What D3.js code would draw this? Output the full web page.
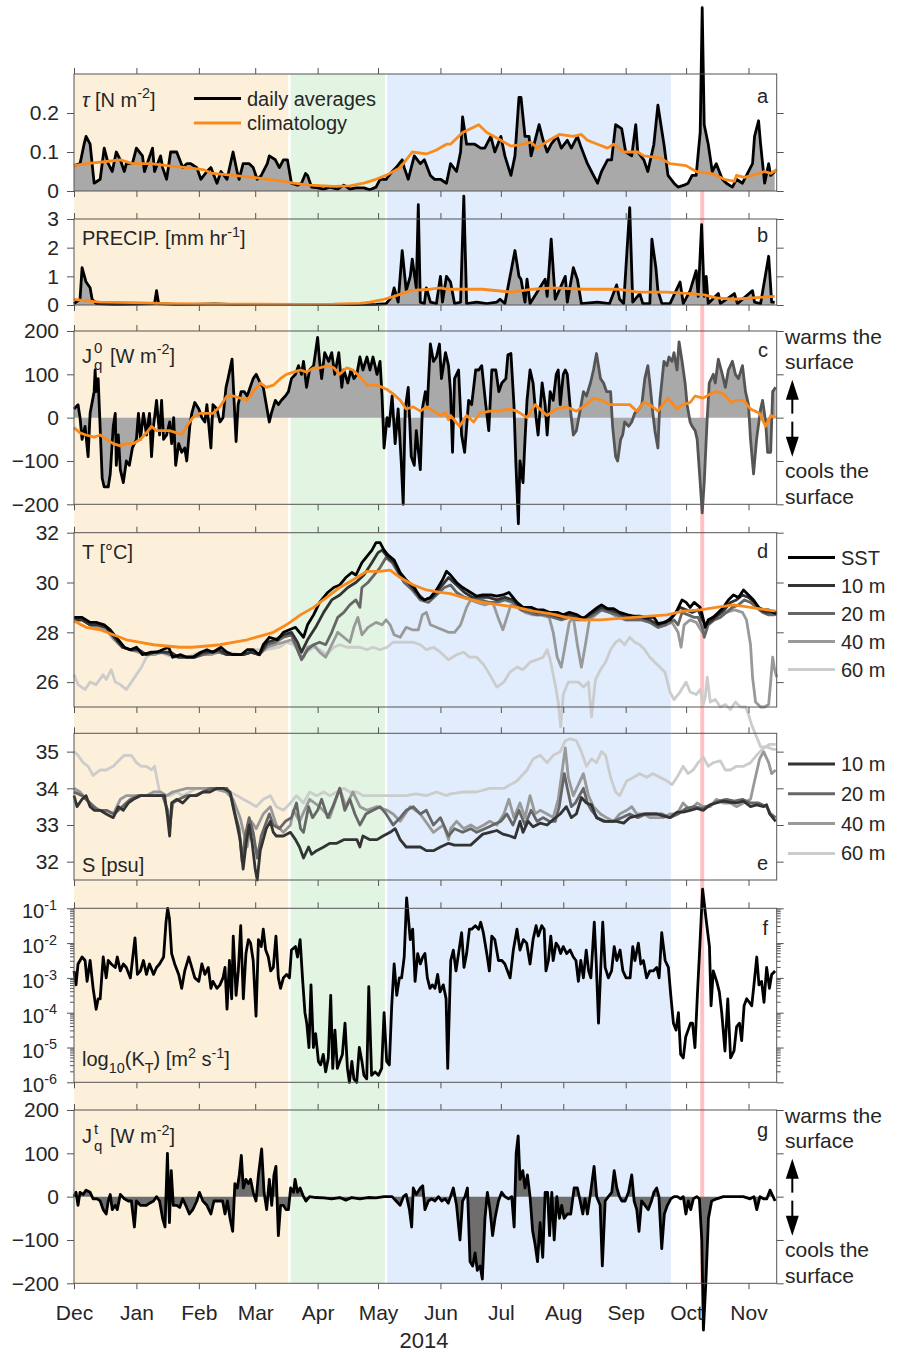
<!DOCTYPE html>
<html>
<head>
<meta charset="utf-8">
<script src="https://cdn.jsdelivr.net/npm/d3@7"></script>
<style>
  body { margin: 0; background: #fff; }
  svg { display: block; font-family: "Liberation Sans", Arial, Helvetica, sans-serif; }
</style>
</head>
<body>
<svg id="chart" width="905" height="1352"></svg>
<script>
// all series are [day since 2013-12-01, value]

const stressDaily = [[0,.065],[3,.07],[5,.12],[6,.14],[8,.12],[10,.02],[13,.03],[15,.11],[17,.07],[19,.05],[21,.10],[23,.08],[25,.05],[26,.07],[29,.07],[31,.11],[34,.09],[35,.05],[39,.11],[40,.05],[43,.09],[44,.06],[46,.03],[48,.10],[51,.10],[54,.06],[56,.07],[58,.07],[61,.06],[63,.03],[66,.05],[68,.06],[71,.02],[73,.05],[76,.03],[79,.10],[81,.05],[82,.03],[84,.07],[87,.07],[89,.06],[91,.03],[93,.04],[96,.07],[97,.09],[100,.08],[102,.06],[104,.08],[106,.08],[108,.02],[111,.015],[113,.02],[115,.045],[116,.04],[118,.01],[121,.008],[124,.005],[127,.01],[131,.005],[134,.015],[137,.005],[140,.008],[144,.008],[147,.003],[150,.01],[152,.03],[155,.03],[158,.05],[160,.06],[163,.08],[164,.06],[166,.03],[169,.09],[172,.07],[174,.08],[177,.04],[179,.03],[182,.03],[185,.02],[187,.07],[190,.05],[192,.10],[193,.19],[195,.12],[197,.12],[199,.12],[202,.11],[204,.11],[207,.14],[209,.10],[212,.14],[214,.09],[217,.04],[219,.09],[221,.24],[222,.24],[224,.14],[226,.14],[227,.09],[229,.13],[231,.17],[233,.13],[235,.10],[237,.12],[240,.14],[242,.11],[245,.13],[247,.11],[250,.14],[252,.11],[255,.07],[257,.05],[260,.02],[262,.05],[265,.08],[267,.08],[269,.17],[272,.16],[274,.10],[277,.09],[279,.17],[280,.10],[283,.08],[285,.05],[288,.12],[290,.22],[293,.12],[295,.04],[298,.02],[300,.01],[303,.015],[305,.02],[307,.04],[309,.04],[311,.15],[312,.47],[313,.17],[315,.12],[317,.05],[319,.07],[322,.03],[324,.02],[327,.01],[329,.03],[332,.02],[334,.04],[337,.07],[338,.14],[340,.18],[341,.12],[343,.02],[345,.07],[346,.04],[348,.05]];
const stressClim = [[0,.065],[6,.07],[15,.075],[23,.08],[29,.07],[38,.07],[46,.065],[56,.06],[64,.055],[69,.045],[79,.04],[89,.035],[96,.03],[104,.025],[109,.02],[117,.015],[129,.012],[137,.013],[144,.02],[150,.03],[155,.04],[162,.06],[168,.10],[175,.095],[180,.105],[185,.12],[187,.12],[193,.15],[201,.17],[205,.15],[212,.13],[217,.115],[223,.12],[227,.125],[230,.11],[236,.13],[241,.145],[248,.14],[252,.145],[255,.13],[260,.12],[265,.11],[268,.12],[273,.10],[280,.10],[283,.09],[291,.085],[296,.07],[304,.065],[309,.05],[316,.045],[319,.04],[323,.03],[328,.025],[329,.04],[333,.035],[337,.04],[343,.05],[346,.045],[349,.055]];

const precipDaily = [[0,.05],[3,.2],[4,1.3],[6,.8],[8,.6],[9,.2],[11,.05],[20,.02],[30,.03],[40,.05],[41,.5],[42,.05],[50,.02],[60,.02],[70,.04],[80,.01],[90,.01],[100,.02],[110,.01],[120,.02],[130,.01],[140,.01],[150,.02],[155,.05],[158,.3],[159,.6],[161,.1],[163,1.9],[165,.5],[167,1.0],[168,1.6],[170,.6],[171,3.5],[172,.1],[174,.05],[175,.6],[177,.1],[180,.05],[182,1.0],[183,.1],[185,1.0],[187,.8],[189,.05],[192,.1],[193.6,3.8],[195,.05],[200,.1],[205,.05],[210,.1],[211.6,.2],[214,.05],[219,1.9],[221,1.0],[222,.9],[224,.1],[225,.9],[226.5,.05],[234,.9],[235,.3],[237,2.3],[239,.2],[244,1.0],[245,.1],[248,1.3],[250,.9],[252,.05],[260,.1],[266,.05],[269.5,.7],[271,.2],[273,.05],[276,3.4],[277.5,.1],[281,.4],[282.5,.05],[286,.05],[287,2.3],[289,1.3],[290,.5],[292,.05],[296,.05],[301,.8],[302.6,.05],[306,.5],[309,1.2],[310,.3],[311.7,2.8],[313,.3],[314,1.0],[315,.05],[320,.4],[321,.05],[328,.4],[329.5,.05],[337,.5],[338,.1],[341,.05],[345,1.7],[346.5,.1],[348,.1]];
const precipClim = [[0,.2],[5,.15],[13,.1],[30,.08],[46,.05],[63,.04],[79,.03],[112,.02],[129,.03],[142,.06],[147,.1],[154,.2],[159,.3],[167,.5],[177,.55],[182,.6],[185,.55],[203,.55],[217,.45],[228,.55],[238,.6],[253,.55],[270,.55],[280,.45],[294,.45],[306,.4],[313,.35],[319,.25],[328,.2],[337,.25],[348,.3]];

const surfFluxDaily = [[0,20],[2,30],[3,0],[4,-50],[5.5,-20],[7,-90],[8,10],[10,60],[10.5,110],[11,60],[12,90],[14,-140],[15,-160],[17,-160],[18,-130],[19.5,-20],[20.5,10],[21,-110],[22,-40],[23,-120],[24.5,-150],[26,-100],[27.5,-110],[29,-70],[31,-50],[32,10],[33,-50],[34.5,10],[36,-40],[37.5,10],[38.5,-90],[39.5,-20],[41,40],[42.5,-40],[43.5,40],[44.5,-50],[46,-40],[47.5,-10],[48.5,-60],[49.5,0],[50.5,-110],[52,-60],[53.5,-80],[55,-70],[56,-100],[57.5,-20],[58.5,10],[60,35],[62,20],[63.5,0],[65,-10],[66,30],[68,-70],[69,30],[71,20],[72.5,-10],[74,0],[75.5,70],[76.5,90],[78.5,135],[79.5,40],[80.5,-55],[81.5,30],[83,60],[84.5,60],[86,50],[87.5,70],[89,90],[90.5,100],[92.5,80],[94,70],[95.5,30],[97,-10],[98,10],[100,40],[101.5,30],[103,40],[105,50],[106.5,60],[108,90],[110,100],[111.5,120],[113,100],[114,130],[115.5,70],[117,110],[119,120],[121,185],[122,130],[123,90],[124.5,150],[126.5,130],[128,150],[129.5,100],[131.5,150],[133,70],[134,110],[136,80],[137.5,110],[139,90],[140.5,100],[142,140],[143.5,110],[145.5,140],[147,110],[148.5,140],[150.5,100],[152,130],[153,50],[154,-70],[155.5,0],[156.5,-20],[158,50],[159.5,-60],[161,20],[162.5,-100],[163.5,-200],[164.5,20],[166,70],[167.5,-90],[169,-110],[170,-30],[172,-120],[173,20],[174.5,60],[175.5,30],[177,170],[178.5,130],[180,140],[181.5,170],[182.5,90],[184.5,150],[186,120],[187,60],[188,-80],[189,90],[191,110],[192.5,-40],[194,-80],[196,40],[197.5,30],[199.5,110],[201,110],[202.5,120],[204.5,30],[206,-30],[207.5,110],[209.5,110],[211,60],[212.5,80],[214.5,90],[215.5,145],[217,148],[218.5,30],[219.5,-110],[220.7,-245],[221.5,-100],[223,-150],[224,-50],[225,40],[226.5,110],[228,80],[229.5,0],[230.5,-40],[232.5,80],[234,30],[235,-40],[236.5,60],[238,40],[239.5,100],[240.5,110],[241.5,30],[243,100],[244,110],[245,100],[246.5,20],[248,-40],[249.5,-30],[251.5,20],[253,60],[254.5,50],[256.5,80],[258,110],[259.5,148],[261.5,90],[263,80],[264.5,60],[266.5,60],[267.5,-20],[269,-90],[270,-100],[271.5,-50],[272.5,-40],[273.5,-10],[275.5,-20],[277,-10],[278.5,10],[280.5,20],[282,30],[283.5,90],[285,120],[286,80],[287.5,10],[288.5,-30],[290,-70],[291,40],[293,130],[294.5,120],[295.5,140],[297,130],[298,150],[299.5,110],[300.5,175],[302,130],[303.5,80],[304.5,30],[306,-10],[307,-20],[308.5,-30],[309.5,-50],[311,-150],[312,-220],[313,-150],[314.5,0],[315.5,80],[317.5,100],[318.5,80],[320,135],[322,100],[323.5,70],[325,110],[327,130],[328.5,100],[330,90],[332,120],[333.5,60],[335,30],[336,-50],[337.5,-130],[339,-50],[341,20],[342,40],[343.5,-10],[344.5,-80],[346,-80],[347,60],[348.5,70]];
const surfFluxClim = [[0,-23],[3,-35],[6,-40],[10,-45],[13,-40],[16,-50],[19.5,-60],[23,-65],[26,-60],[29.5,-60],[33,-50],[36,-35],[38.5,-20],[41,-30],[44.5,-30],[47.5,-30],[51,-35],[53.5,-40],[56,-20],[59,0],[62.5,10],[66,10],[69,10],[72.5,25],[76,50],[79,50],[82.5,45],[86,40],[89,60],[92.5,80],[95.5,70],[99,75],[102.5,90],[105.5,100],[109,105],[112.5,110],[115.5,105],[119,115],[122,115],[126.5,120],[129,115],[132,100],[135.5,115],[138.5,110],[142,95],[145.5,75],[150.5,75],[155.5,65],[158.5,55],[162,40],[165,20],[168.5,25],[172,15],[175,25],[178.5,15],[182,5],[184.5,12],[186,-5],[187,5],[191.5,-20],[195,5],[198.5,-10],[201.5,10],[206.5,15],[211.5,15],[216,20],[220,15],[225,0],[229,30],[232.5,15],[235,5],[239.5,20],[244.5,25],[249.5,15],[254.5,30],[258,45],[262,40],[266.5,30],[271,30],[276,30],[279.5,15],[283,35],[286,30],[290,15],[295,45],[299.5,20],[302.5,30],[306,35],[308.5,50],[312.5,45],[316,55],[319,60],[322.5,55],[326.5,35],[329,40],[332.5,40],[336,20],[340.5,10],[343.5,-20],[346,5],[348.5,0]];
const surfFluxGreyFrom = 246; // line drawn grey after this day

const tempSST = [[0,28.6],[4,28.6],[8,28.4],[11,28.4],[15,28.3],[18,28.1],[21,27.8],[25,27.4],[28,27.3],[31,27.4],[34,27.1],[38,27.2],[41,27.2],[44,27.3],[47,27.4],[49,27.0],[53,27.1],[56,27.0],[59,27.0],[63,27.2],[66,27.3],[69,27.2],[73,27.4],[76,27.2],[79,27.1],[83,27.1],[86,27.3],[89,27.3],[92,27.1],[94,27.5],[97,27.8],[101,27.7],[104,28.0],[107,28.1],[110,28.2],[112,28.0],[114,27.8],[116,28.3],[119,28.7],[122,29.2],[126,29.6],[129,29.8],[132,29.9],[135,30.2],[138,30.4],[140,30.3],[143,30.8],[145,31.0],[148,31.3],[150,31.6],[152,31.6],[154,31.3],[156,31.1],[159,30.9],[162,30.4],[165,30.1],[169,29.8],[172,29.4],[174,29.3],[177,29.4],[180,29.7],[183,30.1],[185,30.45],[187,30.3],[190,30.0],[193,29.8],[197,29.6],[200,29.45],[203,29.5],[207,29.5],[210,29.45],[213,29.5],[216,29.6],[218,29.4],[220,29.2],[223,29.0],[227,29.0],[230,28.9],[233,28.9],[236,28.8],[240,28.8],[243,28.7],[246,28.8],[250,28.7],[253,28.55],[256,28.75],[260,29.0],[262,29.1],[265,28.95],[268,28.95],[271,28.8],[275,28.7],[278,28.65],[281,28.65],[284,28.6],[288,28.6],[290,28.35],[293,28.4],[296,28.5],[299,28.8],[302,29.3],[304,29.2],[306,29.0],[308,29.2],[311,29.0],[312,28.7],[313.5,28.2],[315,28.5],[317.5,28.6],[320,28.8],[322.5,29.0],[325,29.3],[327.5,29.5],[330,29.4],[332.5,29.7],[335,29.5],[337.5,29.3],[340,29.0],[342.5,28.9],[345,28.9],[347.5,28.8],[349,28.8]];
const temp10 = [[0,28.5],[4,28.5],[8,28.3],[12,28.3],[16,28.2],[20,27.8],[24,27.4],[28,27.3],[32,27.3],[36,27.1],[40,27.2],[44,27.2],[48,27.2],[52,27.0],[56,27.0],[60,27.0],[64,27.2],[68,27.2],[72,27.3],[76,27.1],[80,27.1],[84,27.1],[88,27.2],[92,27.1],[96,27.6],[100,27.7],[104,27.9],[108,28.0],[111,27.6],[113,27.2],[116,27.7],[120,28.2],[124,28.8],[128,29.3],[132,29.5],[136,29.8],[140,30.0],[144,30.3],[148,30.8],[151,31.2],[153,31.3],[156,31.0],[159,30.8],[162,30.3],[166,30.0],[170,29.6],[174,29.3],[178,29.4],[182,29.8],[186,30.2],[190,29.9],[194,29.6],[198,29.4],[202,29.4],[206,29.4],[210,29.3],[214,29.4],[218,29.3],[222,29.0],[226,28.9],[230,28.8],[234,28.8],[238,28.7],[242,28.6],[246,28.7],[250,28.6],[254,28.6],[258,28.8],[262,29.0],[266,28.9],[270,28.8],[274,28.6],[278,28.6],[282,28.6],[286,28.5],[290,28.3],[294,28.4],[298,28.7],[301,29.0],[304,28.9],[307,28.8],[310,28.9],[312,28.5],[314,28.3],[317,28.5],[320,28.7],[323,28.9],[326,29.2],[329,29.3],[332,29.5],[335,29.4],[338,29.2],[341,28.9],[344,28.8],[347,28.8],[349,28.7]];
const temp20 = [[0,28.5],[4,28.5],[8,28.3],[12,28.3],[16,28.2],[20,27.8],[24,27.4],[28,27.3],[32,27.3],[36,27.1],[40,27.2],[44,27.2],[48,27.1],[52,27.0],[56,27.0],[60,27.0],[64,27.1],[68,27.2],[72,27.2],[76,27.1],[80,27.1],[84,27.1],[88,27.2],[92,27.1],[96,27.5],[100,27.6],[104,27.8],[108,27.9],[111,27.3],[113,26.9],[116,27.3],[119,27.5],[122,27.6],[125,27.5],[128,28.0],[131,28.6],[134,28.8],[137,29.1],[140,29.3],[142,29.0],[143,29.8],[146,30.0],[149,30.3],[152,30.6],[155,31.0],[158,30.8],[161,30.4],[164,30.0],[168,29.7],[172,29.3],[176,29.2],[180,29.5],[184,29.8],[187,29.9],[190,29.6],[194,29.4],[198,29.3],[202,29.3],[206,29.2],[210,29.2],[214,29.3],[218,29.2],[222,28.9],[226,28.8],[230,28.7],[234,28.7],[238,28.6],[242,28.5],[246,28.6],[250,28.5],[254,28.5],[258,28.7],[262,28.9],[266,28.8],[270,28.7],[274,28.5],[278,28.5],[282,28.5],[286,28.4],[290,28.2],[294,28.3],[298,28.5],[300,28.3],[302,28.8],[305,28.7],[308,28.6],[310,28.6],[312,28.2],[313,27.8],[315,28.3],[318,28.5],[321,28.6],[324,28.8],[327,29.0],[330,29.1],[333,29.3],[336,29.2],[339,29.0],[342,28.8],[345,28.7],[348,28.7]];
const temp40 = [[0,28.5],[4,28.5],[8,28.3],[12,28.2],[16,28.1],[20,27.7],[24,27.4],[28,27.3],[32,27.2],[36,27.1],[40,27.1],[44,27.2],[48,27.1],[52,27.0],[56,27.0],[60,27.0],[64,27.1],[68,27.1],[72,27.2],[76,27.1],[80,27.1],[84,27.1],[88,27.2],[92,27.1],[96,27.4],[100,27.5],[104,27.6],[108,27.7],[110,27.5],[112,27.1],[114,27.0],[116,27.4],[119,27.5],[122,27.2],[125,27.0],[128,27.5],[131,28.0],[134,27.8],[137,27.6],[139,28.2],[141,28.6],[143,27.9],[146,28.2],[150,28.4],[153,28.3],[155,28.5],[157,28.3],[159,27.9],[162,27.8],[165,28.2],[168,28.1],[171,28.1],[173,28.7],[175,28.8],[177,28.3],[180,28.2],[183,28.1],[186,28.0],[189,28.0],[192,28.3],[195,29.0],[197,29.3],[200,29.2],[204,29.1],[208,29.2],[211,28.5],[213,28.1],[215,28.6],[217,29.1],[220,29.0],[224,28.8],[228,28.7],[232,28.7],[236,28.6],[238,28.0],[240,27.0],[242,26.6],[244,27.5],[246,28.4],[248,28.6],[250,27.5],[252,26.6],[254,27.5],[256,28.5],[259,28.7],[262,28.9],[266,28.8],[270,28.6],[274,28.5],[278,28.5],[282,28.5],[286,28.4],[290,28.2],[294,28.3],[297,28.4],[300,28.0],[301.5,27.4],[303,28.3],[306,28.5],[309,28.4],[312,28.0],[314,28.3],[317,28.6],[320,28.7],[324,28.8],[328,28.9],[332,28.8],[334,28.5],[336,27.5],[337,26.2],[338.5,25.2],[341,25.0],[343,25.0],[345,25.1],[346,26.0],[347,27.0],[348,26.5],[349,26.2]];
const temp60 = [[0,26.3],[2,25.9],[5.5,25.7],[8,26.0],[11,25.9],[14.5,26.3],[16,26.1],[18.5,26.5],[20.5,26.0],[23,25.9],[26,25.7],[28.5,26.0],[31,26.3],[33.5,26.6],[36,27.0],[39.5,27.2],[42.5,27.2],[49,27.0],[56,27.0],[62.5,27.2],[69,27.2],[76,27.2],[82.5,27.1],[89,27.3],[95.5,27.3],[102,27.4],[105.5,27.6],[109,27.5],[112.5,27.2],[115.5,27.2],[119,27.4],[122,27.3],[125.5,27.1],[129,27.4],[132,27.5],[135.5,27.4],[138.5,27.4],[142,27.4],[145.5,27.3],[148.5,27.4],[152,27.3],[155.5,27.4],[158.5,27.6],[162,27.6],[165,27.6],[168.5,27.6],[172,27.5],[175,27.3],[178.5,27.4],[182,27.2],[186,26.9],[190,27.1],[193.5,27.2],[196.5,27.0],[200,27.0],[203.5,26.7],[206.5,26.3],[210,25.8],[213.5,26.0],[216.5,26.4],[220,26.6],[223,26.5],[226.5,26.8],[230,26.9],[233,27.0],[235,27.3],[236.5,26.9],[239,25.9],[240.5,25.2],[241.7,24.2],[243,25.5],[245.5,26.0],[248,26.0],[250.5,26.0],[253,25.8],[255.5,26.0],[257,24.6],[259,26.1],[261.5,26.5],[264,26.8],[266.5,27.3],[269,27.6],[271,27.7],[273.5,27.5],[276,27.8],[278.5,27.6],[281,27.5],[283.5,27.3],[286,27.0],[288.5,26.8],[291,26.6],[293.5,26.4],[296,25.6],[298,25.3],[301,25.6],[304,26.0],[306,25.6],[309,25.5],[311,25.7],[312.5,25.1],[313.5,25.4],[314.5,26.2],[316,25.2],[318.5,25.3],[321,25.0],[323.5,25.1],[326,24.9],[328.5,25.2],[331,25.0],[333.5,25.0],[335,24.7],[336.5,24.3],[338.5,23.9],[341,23.4],[344,23.4],[347,23.3],[349,23.3]];
const tempClim = [[0,28.45],[6,28.2],[13,28.1],[19.5,27.9],[26,27.7],[33,27.6],[39.5,27.5],[46,27.45],[52.5,27.4],[59,27.4],[66,27.45],[72.5,27.5],[79,27.6],[86,27.7],[92.5,27.85],[99,28.0],[105.5,28.3],[112.5,28.7],[119,29.0],[125.5,29.4],[132,29.8],[138.5,30.1],[145.5,30.45],[152,30.45],[157,30.5],[162,30.2],[168.5,29.9],[175,29.7],[182,29.6],[187,29.55],[195,29.35],[203,29.2],[211.5,29.1],[220,29.0],[228,28.85],[236.5,28.75],[244.5,28.6],[253,28.5],[261.5,28.5],[269.5,28.55],[278,28.6],[286,28.65],[294.5,28.7],[302.5,28.85],[311,28.9],[319,29.0],[327.5,29.1],[336,29.0],[344,28.9],[348.5,28.85]];

const sal10 = [[0,33.8],[1.5,33.5],[4,33.7],[6,33.8],[8,33.5],[10,33.4],[13,33.4],[16,33.3],[19.5,33.2],[22,33.5],[24.5,33.4],[27,33.6],[29.5,33.7],[33,33.8],[36,33.8],[39.5,33.8],[42.5,33.8],[45,33.8],[46.5,33.2],[47.5,32.7],[48.5,33.6],[51,33.7],[54,33.6],[57.5,33.8],[61,33.8],[64,33.9],[67.5,33.9],[71,34.0],[74,34.0],[77.5,33.9],[79,33.5],[81,33.0],[82.5,32.6],[84,31.8],[85.5,32.5],[87,33.0],[88.5,32.5],[90,31.8],[91,31.5],[92.5,32.3],[94,32.6],[95.5,32.9],[97.5,33.1],[99,32.8],[100.5,32.7],[104,32.7],[107.5,32.8],[110,32.6],[112,32.4],[114,32.1],[116.5,32.4],[118,32.2],[120.5,32.3],[124,32.4],[127,32.5],[130.5,32.5],[134,32.6],[137,32.6],[140.5,32.6],[142,32.4],[143.5,32.7],[147,32.6],[150.5,32.6],[153.5,32.7],[157,32.8],[159.5,32.9],[162,32.6],[165,32.4],[168.5,32.4],[172,32.4],[175,32.3],[178.5,32.3],[182,32.4],[186,32.5],[189,32.45],[192,32.45],[197,32.45],[200,32.6],[203,32.75],[206.5,32.8],[210,32.85],[213,32.75],[216.5,32.7],[219,32.65],[221.5,33.1],[223,32.8],[225.5,33.1],[228,32.95],[231.5,33.05],[235,33.0],[238,33.15],[241.5,33.3],[244.5,33.5],[247,33.2],[249.5,33.3],[252,33.75],[254.5,33.6],[257,33.55],[259.5,33.2],[263,33.1],[266.5,33.1],[269.5,33.1],[273,33.05],[276,33.2],[279.5,33.25],[283,33.3],[286,33.3],[289.5,33.3],[292.5,33.25],[296,33.2],[299.5,33.35],[302.5,33.35],[306,33.4],[309.5,33.45],[312.5,33.4],[316,33.55],[319,33.6],[322.5,33.65],[326,33.62],[329,33.6],[332.5,33.65],[336,33.5],[339,33.55],[342.5,33.5],[344,33.55],[345.5,33.3],[348.5,33.1]];
const sal20 = [[0,33.9],[4,33.8],[8,33.6],[12,33.4],[16,33.4],[20,33.3],[24,33.5],[28,33.7],[32,33.8],[36,33.8],[40,33.8],[44,33.8],[46.5,33.4],[47.5,32.9],[49,33.6],[52,33.7],[56,33.8],[60,33.8],[64,33.9],[68,34.0],[72,34.0],[76,34.0],[78,33.8],[80,33.3],[82,32.9],[83.5,32.0],[85,32.7],[87,33.2],[89,32.8],[91,32.1],[93,32.7],[95,33.0],[97,33.3],[99,33.0],[102,32.9],[105,33.1],[108,33.2],[110.5,33.6],[112.5,32.9],[114,32.8],[116.5,33.5],[118.5,33.2],[121,33.4],[123,33.7],[126,33.2],[128.5,33.5],[132,34.0],[134.5,33.4],[137,33.7],[139.5,33.3],[142,33.0],[145,33.3],[148.5,33.4],[152,33.5],[155,33.3],[158.5,33.0],[162,33.2],[165,33.4],[168.5,33.5],[172,33.3],[175,33.4],[178.5,33.0],[182,33.2],[186,32.7],[189,32.9],[193,32.8],[197,32.9],[200,32.8],[204,32.9],[208,33.0],[212,33.1],[215,33.3],[218,33.0],[221,33.4],[224,33.0],[227,33.4],[230,33.1],[233,33.2],[236,33.1],[239,33.1],[241,33.5],[243.5,34.4],[245,34.0],[247,33.5],[249,33.6],[251,33.8],[253,34.0],[255,33.6],[257,33.4],[260,33.2],[264,33.1],[268,33.1],[272,33.2],[276,33.3],[280,33.2],[284,33.3],[288,33.3],[292,33.3],[296,33.2],[300,33.3],[304,33.45],[308,33.5],[312,33.45],[316,33.55],[320,33.65],[324,33.7],[328,33.65],[332,33.7],[336,33.6],[340,33.6],[344,33.5],[346,33.3],[348.5,33.2]];
const sal40 = [[0,34.0],[3,33.9],[6,33.7],[9.5,33.5],[13,33.4],[16,33.4],[19.5,33.3],[23,33.7],[26,33.8],[29.5,33.8],[33,33.8],[36,33.8],[39.5,33.9],[43,33.9],[46,33.8],[49,33.9],[56,34.0],[62.5,34.0],[69,34.0],[75.5,33.9],[79,33.7],[82.5,33.2],[86,32.4],[88,33.1],[90.5,32.9],[94,33.3],[97.5,33.5],[100.5,33.0],[104,32.8],[107.5,33.0],[109,33.4],[112,33.1],[117,33.7],[122,33.5],[127,33.2],[132,34.0],[135,33.5],[138.5,33.9],[142,33.5],[145.5,33.4],[150.5,33.5],[155.5,33.4],[158.5,33.3],[162,33.1],[167,33.5],[172,33.3],[178.5,32.8],[183.5,33.0],[186,32.6],[187,32.9],[190,33.1],[193.5,32.9],[197,33.0],[200,32.9],[203.5,33.0],[206.5,33.1],[210,33.0],[213.5,33.3],[216,33.7],[218.5,33.2],[221.5,33.6],[224,33.2],[226.5,33.8],[229,33.3],[231.5,33.4],[235,33.3],[238,33.2],[240.5,33.7],[242.5,34.5],[244,35.1],[245.5,34.3],[248,33.8],[250.5,34.1],[253,34.4],[255.5,33.8],[258,33.5],[261.5,33.3],[264.5,33.2],[268,33.1],[271,33.3],[274.5,33.4],[277,33.5],[279.5,33.3],[283,33.3],[286,33.2],[289.5,33.2],[292.5,33.2],[296,33.3],[299.5,33.3],[302.5,33.6],[306,33.4],[309.5,33.6],[312.5,33.5],[316,33.5],[319,33.7],[322.5,33.6],[326,33.6],[329,33.5],[332.5,33.6],[336,33.7],[338,34.2],[340.5,34.8],[342.5,35.0],[345,34.7],[346.5,34.4],[348.5,34.5]];
const sal60 = [[0,35.0],[2,34.9],[4.5,34.7],[7,34.6],[9.5,34.35],[13,34.5],[16,34.5],[19.5,34.6],[23,34.8],[25,34.9],[28.5,34.9],[31,34.7],[33.5,34.6],[36,34.6],[38.5,34.5],[40,34.6],[42.5,33.9],[45,33.8],[47.5,33.8],[51,33.9],[54,33.8],[57.5,33.9],[61,34.0],[64,34.0],[67.5,34.0],[71,34.0],[74,34.0],[77.5,33.9],[81,33.8],[84,33.7],[87.5,33.6],[90.5,33.5],[94,33.7],[97.5,33.8],[100.5,33.5],[104,33.4],[107.5,33.6],[110.5,33.8],[114,33.6],[117,33.9],[120.5,33.8],[124,33.9],[127,33.8],[130.5,33.9],[134,34.0],[137,33.9],[140.5,33.9],[143.5,33.8],[147,33.8],[150.5,33.8],[155.5,33.8],[160,33.8],[165,33.8],[170,33.85],[175,33.8],[180,33.9],[185,33.8],[187,33.85],[193.5,33.9],[200,33.9],[206.5,34.0],[213.5,34.0],[220,34.2],[225,34.5],[228,34.8],[231.5,34.9],[235,34.7],[238,34.9],[241.5,35.0],[244,35.3],[246.5,35.35],[249.5,35.3],[252,35.0],[254.5,34.6],[257,34.8],[259.5,34.7],[262,35.0],[264,34.9],[266.5,34.3],[269,33.9],[271,33.8],[274.5,34.2],[278,34.3],[281,34.4],[284.5,34.3],[287.5,34.4],[291,34.3],[294.5,34.2],[297,34.1],[299.5,34.3],[302.5,34.6],[305,34.4],[307.5,34.5],[310,34.7],[312.5,34.85],[315,34.6],[317.5,34.7],[321,34.75],[323.5,34.5],[326,34.5],[329,34.6],[332.5,34.6],[336,34.7],[339,34.9],[342.5,35.1],[345.5,35.2],[348.5,35.2]];

// log10 of K_T
const diffLog = [[0,-2.8],[1,-3.2],[2,-2.6],[4,-2.4],[5.5,-2.5],[6.5,-3.1],[8,-2.5],[9.5,-3.3],[11,-3.9],[12,-3.6],[13,-3.6],[14.5,-2.4],[16,-3.0],[17,-2.5],[18.5,-2.6],[20.5,-2.7],[21.5,-2.4],[23,-2.8],[24.5,-2.6],[26,-2.7],[28,-3.0],[29,-2.5],[30.3,-1.85],[31.5,-2.9],[33,-2.8],[34.5,-2.5],[36,-2.9],[37.5,-2.6],[39.5,-2.9],[41,-2.7],[42.5,-2.6],[44.5,-2.4],[45.7,-1.4],[46.5,-1.0],[47.4,-1.3],[48.5,-2.3],[50,-2.6],[52,-2.9],[53.5,-3.3],[55,-2.8],[57,-2.4],[58.5,-2.7],[60,-3.0],[62,-3.1],[63.5,-2.6],[65,-2.9],[66.7,-2.7],[68,-3.3],[69,-3.1],[71,-3.3],[72.5,-3.2],[74,-3.0],[75,-2.7],[76,-3.9],[77.2,-2.5],[78.3,-3.6],[79.1,-1.8],[80.5,-3.5],[81.6,-2.8],[82.8,-1.5],[84.1,-3.6],[85.4,-2.3],[86.6,-1.9],[87.7,-2.0],[89,-2.5],[90.4,-4.1],[91.6,-1.9],[93,-2.1],[94,-1.6],[95.2,-2.2],[96.5,-2.4],[97.7,-2.8],[99,-2.7],[100.3,-1.8],[101.5,-3.0],[102.6,-3.3],[104,-3.0],[105.6,-2.9],[107,-3.0],[108,-2.2],[110,-2.1],[111,-2.4],[112.3,-1.9],[113.6,-3.1],[114.7,-4.0],[115.6,-4.3],[116.7,-5.0],[117.7,-3.2],[118.9,-5.0],[120,-4.6],[121.4,-5.4],[122.5,-5.5],[123.8,-5.2],[125,-5.7],[126.3,-5.3],[127.5,-3.5],[128.5,-5.6],[129.6,-4.5],[130.8,-5.6],[132,-5.4],[133.3,-5.2],[134.6,-4.3],[135.8,-5.6],[136.8,-6.0],[138,-5.4],[139,-5.9],[140.4,-6.0],[141.7,-5.0],[143,-5.4],[144,-5.8],[145.4,-5.9],[146.4,-3.25],[147.8,-5.8],[149.5,-5.7],[151.2,-5.8],[152.8,-5.6],[154,-4.0],[155.3,-5.4],[156.6,-5.5],[157.8,-3.8],[159,-2.6],[160.3,-3.5],[161.6,-3.0],[162.7,-3.0],[164,-2.4],[165.2,-0.7],[167,-1.9],[168.2,-1.6],[169.4,-3.1],[170.7,-2.3],[172,-2.6],[173.2,-2.4],[174.3,-2.3],[175.5,-3.0],[176.8,-3.3],[178,-3.2],[179.3,-3.3],[180.6,-2.9],[181.8,-3.4],[183.4,-3.2],[184.8,-3.6],[185.6,-5.6],[187.1,-2.5],[188.4,-2.2],[189.7,-2.8],[191,-2.3],[192.5,-1.7],[193.7,-2.7],[195,-2.3],[196.4,-1.6],[197.5,-1.6],[199.3,-1.5],[201,-1.6],[202,-1.4],[203.3,-1.7],[205,-2.3],[206.3,-2.8],[207.5,-1.8],[209,-1.9],[210.8,-2.5],[212.5,-2.5],[214,-2.6],[215.3,-2.8],[216.6,-3.0],[218.2,-2.2],[220,-1.6],[221.5,-2.2],[223.2,-1.9],[224.8,-2.0],[226.5,-2.6],[228,-1.9],[229.5,-1.5],[230.6,-1.8],[232.3,-1.5],[233.5,-1.6],[234.4,-2.8],[235.6,-2.5],[236.8,-1.8],[238,-2.5],[239.4,-2.0],[240.6,-2.1],[241.7,-2.3],[243,-2.1],[244.7,-2.3],[246.4,-2.2],[248,-2.4],[249.3,-2.5],[250.5,-3.1],[251.7,-2.5],[253,-3.0],[254.4,-2.2],[255.6,-2.8],[256.7,-3.0],[258.4,-1.4],[259.4,-2.6],[260.5,-4.3],[261.7,-2.6],[262.6,-1.4],[263.8,-2.7],[265.4,-3.0],[267,-2.8],[268.3,-2.1],[269.6,-2.5],[271.2,-2.2],[272.6,-2.8],[274.2,-3.0],[276.2,-3.0],[277.5,-2.1],[278.6,-2.5],[280.3,-2.0],[281.5,-2.6],[282.8,-2.5],[284.4,-3.0],[286,-2.8],[287.7,-2.8],[289.4,-2.7],[290.6,-3.0],[291.9,-1.7],[293.6,-2.5],[295.2,-2.7],[296.4,-3.5],[297.7,-4.3],[299,-4.5],[300.2,-4.0],[301.3,-5.2],[302.6,-5.3],[303.8,-4.7],[305,-4.5],[306.2,-4.3],[307.2,-4.3],[308.4,-5.0],[309.6,-3.5],[310.9,-2.0],[312.2,-0.45],[313.9,-1.3],[315.6,-2.1],[316.4,-3.8],[317.5,-2.8],[319.2,-3.1],[320.5,-3.4],[321.7,-4.0],[323.3,-5.1],[324.7,-3.6],[326.1,-5.3],[327.8,-5.1],[329.1,-4.4],[330.5,-4.3],[331.6,-4.8],[332.8,-3.8],[334.1,-3.6],[335.4,-3.7],[336.6,-3.8],[337.7,-3.2],[339.1,-2.4],[340.2,-3.2],[341.5,-3.1],[342.7,-3.7],[344,-2.7],[345.4,-3.3],[346.5,-2.9],[348.2,-2.8]];

const turbFlux = [[0,0],[1,10],[2,-20],[3,10],[4.5,5],[6,15],[8,10],[9.5,-5],[11.5,-5],[13,-10],[14.5,-30],[16,-40],[17,-10],[18,5],[19,-30],[20.5,-20],[21.5,-30],[23,5],[25,-5],[27,-10],[28.5,-10],[30,-70],[31,-10],[33,-20],[34.5,-20],[36,-20],[37.5,-15],[39.5,-10],[41,0],[42.5,-10],[44,-50],[45.2,-70],[46.4,100],[47.4,-60],[48.3,60],[49.3,-20],[51,-20],[52.5,-25],[54,-5],[55.5,-20],[57.3,-40],[59,-30],[61,-10],[62.3,10],[64,-10],[66,-20],[68,-40],[69.5,-10],[71.7,-10],[73.8,-10],[75,-40],[76.2,-10],[77.5,-50],[78.8,-80],[79.9,30],[81.1,20],[82.1,50],[83.1,95],[84.1,20],[85.4,40],[86.6,30],[87.7,40],[89,10],[90.4,-10],[91.6,50],[93.2,110],[94.4,10],[95.7,-30],[97,40],[98.2,-20],[99.3,50],[100.3,70],[101.5,-90],[102.6,-20],[104,-20],[105.3,-30],[106.5,-30],[107.6,20],[109,10],[109.8,40],[111,10],[112.3,20],[114,0],[115.2,-10],[117,0],[120,-2],[124,-3],[128,-5],[132,-2],[135,-8],[138,-2],[142,-5],[146,-2],[150,-3],[154,0],[158,0],[160,-10],[162,-20],[163.6,0],[165,5],[166.6,-30],[167.7,-70],[168.5,20],[170,5],[172,20],[173.2,25],[174.3,-30],[176,-10],[177.6,-5],[179.3,-10],[181,0],[182.6,-10],[184.3,-5],[185.9,-15],[187,0],[188.4,20],[190,-20],[191.7,-100],[193,-10],[194.2,0],[195.4,20],[196.7,-150],[198,-160],[199.2,-130],[200.3,-170],[201.7,-160],[202.8,-190],[204.1,-50],[205.3,10],[206.6,-30],[207.9,-90],[209.1,-50],[210.8,-10],[212.4,10],[214,0],[215.8,-5],[217.4,0],[218.6,-70],[219.6,100],[220.6,140],[221.5,40],[222.9,60],[224,20],[225.2,50],[226.5,0],[227.8,-80],[229,-110],[230.2,-150],[231.5,-60],[232.8,-140],[234,10],[235.2,10],[236.2,-90],[237.3,10],[238.5,-100],[239.8,0],[241.1,-50],[242.2,-20],[243.4,-50],[245.1,-40],[246.7,-40],[248.4,20],[250,20],[251.4,-10],[252.7,-40],[253.8,-5],[255,-40],[256.3,0],[258.3,70],[259.6,0],[261.3,-20],[262.4,-160],[263.8,-10],[265.4,0],[267.1,10],[268.3,60],[269.6,20],[270.9,0],[272.1,-10],[273.7,-10],[275.4,10],[277,50],[278.2,-10],[279.5,-30],[280.6,-80],[281.9,-10],[283.6,-20],[285.2,-30],[286.8,-10],[288,10],[289.4,20],[290.5,0],[291.9,-120],[293.2,-40],[294.7,-20],[296.4,-5],[298,0],[299.7,0],[301.3,-5],[302.6,0],[303.9,-40],[305.1,-10],[306.3,-30],[307.6,-5],[309.3,0],[310.6,-5],[311.8,-100],[312.6,-308],[313.8,-200],[315.1,-50],[316.7,-10],[319.2,-5],[322.5,0],[325.9,0],[329.1,0],[332.4,0],[335.8,-5],[337.7,0],[339.1,-30],[340.7,0],[342.4,-5],[344.1,-5],[345.7,15],[348.2,-10]];

const phaseEdges = ['2013-12-01', '2014-03-18', '2014-05-05', '2014-09-24'];
const phaseColors = ['#fdf0da', '#e2f4e2', '#e1ecfc'];
const eventDate = '2014-10-09';
const timeRange = ['2013-12-01', '2014-11-15'];
const tempLegend = ['SST', '10 m', '20 m', '40 m', '60 m'];
const salLegend = ['10 m', '20 m', '40 m', '60 m'];

(function() {

const svg = d3.select('#chart')
    , parse = d3.utcParse('%Y-%m-%d')
    , t0 = parse(timeRange[0])
    , toDate = (n) => new Date(+t0 + n * 864e5)
    , left = 74, right = 776.7
    , axisColor = '#555', textColor = '#262626'
    , orange = '#fb8a1c'
    , lineW = 2.8
    , depthGreys = {'SST': '#000', '10 m': '#333', '20 m': '#666', '40 m': '#999', '60 m': '#ccc'};

const x = d3.scaleUtc().domain(timeRange.map(parse)).range([left, right]);

const yA = d3.scaleLinear([0, 0.3], [191, 74])
    , yB = d3.scaleLinear([0, 3], [305, 219])
    , yC = d3.scaleLinear([-200, 200], [504.3, 331])
    , yD = d3.scaleLinear([25, 32], [707, 532.7])
    , yE = d3.scaleLinear([31.5, 35.5], [880, 733.3])
    , yF = d3.scaleLog([1e-6, 1e-1], [1082.3, 908.3])
    , yG = d3.scaleLinear([-200, 200], [1283.3, 1110]);

const months = d3.utcMonth.range(x.domain()[0], x.domain()[1]);

/**
 * Shaded periods and the event line behind every panel
 */

const bg = svg.append('g');
for (let i = 0; i < phaseColors.length; i++) {
    const x0 = x(parse(phaseEdges[i])) + (i > 0 ? 1.2 : 0)
        , x1 = x(parse(phaseEdges[i + 1])) - 1.2;
    bg.append('rect')
        .attr('x', x0).attr('width', x1 - x0)
        .attr('y', 74).attr('height', 1283.3 - 74)
        .attr('fill', phaseColors[i]);
}
bg.append('rect')
    .attr('x', x(parse(eventDate)) - 2).attr('width', 4)
    .attr('y', 74).attr('height', 1283.3 - 74)
    .attr('fill', '#ffc2c2');

/**
 * Draw helpers
 */

function drawArea(data, y, fill, tf) {
    const f = tf || ((v) => v);
    svg.append('path')
        .datum(data)
        .attr('fill', fill)
        .attr('d', d3.area()
            .x((d) => x(toDate(d[0])))
            .y0(y(f(0)))
            .y1((d) => y(f(d[1]))));
}

function drawLine(data, y, color, width, tf) {
    const f = tf || ((v) => v);
    svg.append('path')
        .datum(data)
        .attr('fill', 'none')
        .attr('stroke', color)
        .attr('stroke-width', width || lineW)
        .attr('stroke-linejoin', 'round')
        .attr('d', d3.line()
            .x((d) => x(toDate(d[0])))
            .y((d) => y(f(d[1]))));
}

function styleAxis(g) {
    g.select('.domain').remove();
    g.attr('font-family', null).attr('font-size', 21);
    g.selectAll('line').attr('stroke', axisColor);
    g.selectAll('text').attr('fill', textColor);
}

function frame(y, ticks, fmt, withMonths) {
    const [bottom, top] = y.range()
        , g = svg.append('g');

    g.append('g')
        .attr('transform', `translate(${left},0)`)
        .call(d3.axisLeft(y).tickValues(ticks).tickSize(7).tickPadding(8).tickFormat(fmt))
        .call(styleAxis);
    g.append('g')
        .attr('transform', `translate(${right},0)`)
        .call(d3.axisRight(y).tickValues(ticks).tickSize(7).tickFormat(''))
        .call(styleAxis);
    g.append('g')
        .attr('transform', `translate(0,${top})`)
        .call(d3.axisTop(x).tickValues(months).tickSize(6).tickFormat(''))
        .call(styleAxis);
    g.append('g')
        .attr('transform', `translate(0,${bottom})`)
        .call(d3.axisBottom(x).tickValues(months).tickSize(6).tickPadding(16)
            .tickFormat(withMonths ? d3.utcFormat('%b') : ''))
        .call(styleAxis);

    g.append('rect')
        .attr('x', left).attr('y', top)
        .attr('width', right - left).attr('height', bottom - top)
        .attr('fill', 'none').attr('stroke', axisColor).attr('stroke-width', 1);
    return g;
}

// text with super/subscripts: parts are strings or [string, 'sup'|'sub']
function richText(px, py, parts, size, anchor) {
    const t = svg.append('text')
        .attr('x', px).attr('y', py)
        .attr('font-size', size).attr('fill', textColor)
        .attr('text-anchor', anchor || 'start');
    let shift = 0;
    parts.forEach(function(p) {
        const str = typeof p === 'string' ? p : p[0]
            , kind = typeof p === 'string' ? null : p[1]
            , target = kind === 'sup' ? -0.42 * size : kind === 'sub' ? 0.33 * size : 0;
        t.append('tspan')
            .attr('dy', target - shift)
            .attr('font-size', kind ? size * 0.72 : size)
            .text(str);
        shift = target;
    });
    return t;
}

function plainText(px, py, str, size, anchor) {
    return svg.append('text')
        .attr('x', px).attr('y', py)
        .attr('font-size', size).attr('fill', textColor)
        .attr('text-anchor', anchor || 'start')
        .text(str);
}

function surfaceArrows(y) {
    const y0 = y(0), ax = 792.3;
    const g = svg.append('g').attr('fill', '#000').attr('stroke', '#000');
    g.append('line').attr('x1', ax).attr('x2', ax).attr('y1', y0 - 4).attr('y2', y0 - 22).attr('stroke-width', 2);
    g.append('path').attr('d', `M${ax},${y0 - 38}L${ax - 6.5},${y0 - 18}L${ax + 6.5},${y0 - 18}Z`).attr('stroke', 'none');
    g.append('line').attr('x1', ax).attr('x2', ax).attr('y1', y0 + 4).attr('y2', y0 + 22).attr('stroke-width', 2);
    g.append('path').attr('d', `M${ax},${y0 + 39}L${ax - 6.5},${y0 + 19}L${ax + 6.5},${y0 + 19}Z`).attr('stroke', 'none');
    plainText(785, y0 - 74, 'warms the', 21);
    plainText(785, y0 - 49, 'surface', 21);
    plainText(785, y0 + 60, 'cools the', 21);
    plainText(785, y0 + 86, 'surface', 21);
}

/**
 * Panel a: wind stress
 */

drawArea(stressDaily, yA, '#a9a9a9');
drawLine(stressDaily, yA, '#000');
drawLine(stressClim, yA, orange);
frame(yA, [0, 0.1, 0.2], (d) => d === 0 ? '0' : d3.format('.1f')(d));
richText(82, 106.5, [['τ'], ' [N m', ['-2', 'sup'], ']'], 20).select('tspan').attr('font-style', 'italic');
svg.append('line').attr('x1', 194).attr('x2', 241).attr('y1', 98.5).attr('y2', 98.5).attr('stroke', '#000').attr('stroke-width', lineW);
svg.append('line').attr('x1', 194).attr('x2', 241).attr('y1', 123).attr('y2', 123).attr('stroke', orange).attr('stroke-width', lineW);
plainText(247, 105.5, 'daily averages', 20);
plainText(247, 130, 'climatology', 20);
plainText(768, 102.7, 'a', 20, 'end');

/**
 * Panel b: precipitation
 */

drawArea(precipDaily, yB, '#a9a9a9');
drawLine(precipDaily, yB, '#000');
drawLine(precipClim, yB, orange);
frame(yB, [0, 1, 2, 3], d3.format('d'));
richText(82, 245, ['PRECIP. [mm hr', ['-1', 'sup'], ']'], 20);
plainText(768, 241.7, 'b', 20, 'end');

/**
 * Panel c: surface heat flux
 */

drawArea(surfFluxDaily, yC, '#a9a9a9');
drawLine(surfFluxDaily.filter((d) => d[0] <= surfFluxGreyFrom + 0.5), yC, '#000');
drawLine(surfFluxDaily.filter((d) => d[0] >= surfFluxGreyFrom), yC, '#555');
drawLine(surfFluxClim, yC, orange);
frame(yC, [-200, -100, 0, 100, 200], d3.format('d'));
plainText(82, 362.5, 'J', 20);
plainText(94, 353, '0', 15);
plainText(94, 370, 'q', 15);
richText(110, 362.5, ['[W m', ['-2', 'sup'], ']'], 20);
plainText(768, 356.7, 'c', 20, 'end');
surfaceArrows(yC);

/**
 * Panel d: temperature
 */

[['60 m', temp60], ['40 m', temp40], ['20 m', temp20], ['10 m', temp10], ['SST', tempSST]]
    .forEach((s) => drawLine(s[1], yD, depthGreys[s[0]]));
drawLine(tempClim, yD, orange);
frame(yD, [26, 28, 30, 32], d3.format('d'));
plainText(82, 559, 'T [°C]', 20);
plainText(768, 558.3, 'd', 20, 'end');
tempLegend.forEach(function(name, i) {
    const ly = 557.5 + i * 28;
    svg.append('line').attr('x1', 788).attr('x2', 835).attr('y1', ly).attr('y2', ly)
        .attr('stroke', depthGreys[name]).attr('stroke-width', 3);
    plainText(841, ly + 7, name, 20);
});

/**
 * Panel e: salinity
 */

[['60 m', sal60], ['40 m', sal40], ['20 m', sal20], ['10 m', sal10]]
    .forEach((s) => drawLine(s[1], yE, depthGreys[s[0]]));
frame(yE, [32, 33, 34, 35], d3.format('d'));
plainText(82, 871.5, 'S [psu]', 20);
plainText(768, 870, 'e', 20, 'end');
salLegend.forEach(function(name, i) {
    const ly = 764 + i * 29.8;
    svg.append('line').attr('x1', 788).attr('x2', 835).attr('y1', ly).attr('y2', ly)
        .attr('stroke', depthGreys[name]).attr('stroke-width', 3);
    plainText(841, ly + 7, name, 20);
});

/**
 * Panel f: diffusivity (log axis)
 */

const pow10 = (v) => Math.pow(10, v);
drawLine(diffLog, yF, '#000', lineW, pow10);
const decades = [-6, -5, -4, -3, -2, -1]
    , minors = [];
decades.slice(0, -1).forEach((n) => d3.range(2, 10).forEach((k) => minors.push(k * pow10(n))));
const fg = frame(yF, decades.map(pow10), () => '');
[[left, -1], [right, 1]].forEach(function(side) {
    fg.append('g').selectAll('line')
        .data(minors).enter().append('line')
        .attr('x1', side[0]).attr('x2', side[0] + side[1] * 4)
        .attr('y1', (d) => yF(d)).attr('y2', (d) => yF(d))
        .attr('stroke', axisColor);
});
decades.forEach(function(n) {
    richText(57, yF(pow10(n)) + 10, ['10', [String(n), 'sup']], 20, 'end');
});
richText(82, 1066, ['log', ['10', 'sub'], '(K', ['T', 'sub'], ') [m', ['2', 'sup'], ' s', ['-1', 'sup'], ']'], 20);
plainText(768, 935, 'f', 20, 'end');

/**
 * Panel g: turbulent heat flux
 */

drawArea(turbFlux, yG, '#6e6e6e');
drawLine(turbFlux, yG, '#000');
frame(yG, [-200, -100, 0, 100, 200], d3.format('d'), true);
plainText(82, 1143, 'J', 20);
plainText(94, 1134, 't', 15);
plainText(94, 1151, 'q', 15);
richText(110, 1143, ['[W m', ['-2', 'sup'], ']'], 20);
plainText(768, 1137, 'g', 20, 'end');
surfaceArrows(yG);

plainText(424, 1348, '2014', 22, 'middle');

})();
</script>
</body>
</html>
